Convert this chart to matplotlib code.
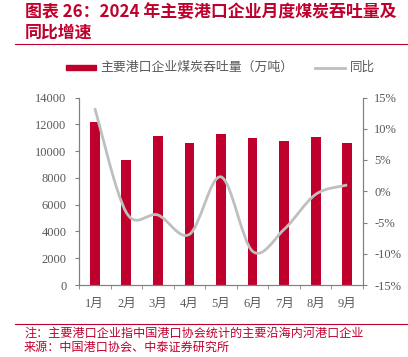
import numpy as np
import matplotlib
matplotlib.use("Agg")
import matplotlib.pyplot as plt
from matplotlib.path import Path
from matplotlib.patches import PathPatch

months = ["1月", "2月", "3月", "4月", "5月", "6月", "7月", "8月", "9月"]
throughput = [12150, 9300, 11100, 10600, 11300, 11000, 10780, 11080, 10600]
yoy = [13.3, -3.4, -3.8, -6.9, 2.3, -9.6, -6.1, -0.5, 1.0]
left_ticks = [0, 2000, 4000, 6000, 8000, 10000, 12000, 14000]
right_ticks = [-15, -10, -5, 0, 5, 10, 15]

title = "图表 26：2024 年主要港口企业月度煤炭吞吐量及\n同比增速"
legend_bar = "主要港口企业煤炭吞吐量（万吨）"
legend_line = "同比"
note = "注：主要港口企业指中国港口协会统计的主要沿海内河港口企业"
source = "来源：中国港口协会、中泰证券研究所"

RED = "#C0002C"
GRAY_LINE = "#BFBFBF"
TXT = "#595959"
AX = "#808080"
CJK = ["Noto Sans CJK SC", "DejaVu Sans"]
SERIF = ["Liberation Serif", "Noto Sans CJK SC"]

fig = plt.figure(figsize=(4.08, 3.57), dpi=100)
ax = fig.add_axes([79/408, 1-285/357, (363-79)/408, (285-97.5)/357])
ax2 = ax.twinx()

x = np.arange(len(months))
ax.bar(x, throughput, width=0.31, color=RED, zorder=2)
ax.set_xlim(-0.5, len(months)-0.5)
ax.set_ylim(0, 14000)
ax.set_yticks(left_ticks)
ax.set_yticklabels([str(v) for v in left_ticks], family=SERIF, fontsize=9, color=TXT)
ax.set_xticks(x)
ax.set_xticklabels(months, family=SERIF, fontsize=9, color=TXT)
ax.set_xticks(np.arange(-0.5, len(months)), minor=True)
ax.tick_params(axis="x", which="major", length=0, pad=9)
ax.tick_params(axis="x", which="minor", length=3, color=AX, direction="out")
ax.tick_params(axis="y", length=3, color=AX, pad=6)

# smoothed line (Catmull-Rom style Bezier through the data points)
pts = np.column_stack([x, yoy]).astype(float)
ext = np.vstack([pts[0], pts, pts[-1]])
verts = [tuple(pts[0])]
codes = [Path.MOVETO]
for i in range(1, len(ext)-2):
    p0, p1, p2, p3 = ext[i-1], ext[i], ext[i+1], ext[i+2]
    c1 = p1 + (p2 - p0)/6
    c2 = p2 - (p3 - p1)/6
    verts += [tuple(c1), tuple(c2), tuple(p2)]
    codes += [Path.CURVE4]*3
ax2.add_patch(PathPatch(Path(verts, codes), facecolor="none", edgecolor=GRAY_LINE, lw=2, zorder=3))
ax2.set_ylim(-15, 15)
ax2.set_yticks(right_ticks)
ax2.set_yticklabels([f"{v}%" for v in right_ticks], family=SERIF, fontsize=9, color=TXT)
ax2.tick_params(axis="y", length=3, color=AX, pad=5)

for a in (ax, ax2):
    a.spines["top"].set_visible(False)
    for s in ("left", "right", "bottom"):
        a.spines[s].set_color(AX)
        a.spines[s].set_linewidth(0.8)

# legend
fig.patches.append(plt.Rectangle((66/408, 1-70/357), 30/408, 5/357, color=RED, transform=fig.transFigure))
fig.text(100/408, 1-67.5/357, legend_bar, family=CJK, fontsize=9.3, color=TXT, va="center")
fig.lines.append(plt.Line2D([315/408, 345/408], [1-67.5/357]*2, color=GRAY_LINE, lw=2, transform=fig.transFigure))
fig.text(350/408, 1-67.5/357, legend_line, family=CJK, fontsize=9, color=TXT, va="center")

# title
fig.text(25/408, 1-3/357, title, family=CJK, fontsize=12.2, fontweight="bold", style="italic",
         color=RED, va="top", linespacing=1.22)
fig.lines.append(plt.Line2D([15/408, 1], [1-43.5/357]*2, color=RED, lw=0.8, transform=fig.transFigure))

# footer
fig.lines.append(plt.Line2D([15/408, 1], [1-323.5/357]*2, color=RED, lw=0.8, transform=fig.transFigure))
fig.text(24/408, 1-333/357, note, family=CJK, fontsize=8.7, color=RED, va="center")
fig.text(24/408, 1-347/357, source, family=CJK, fontsize=8.7, color=RED, va="center")

fig.savefig("out.png", dpi=100)
